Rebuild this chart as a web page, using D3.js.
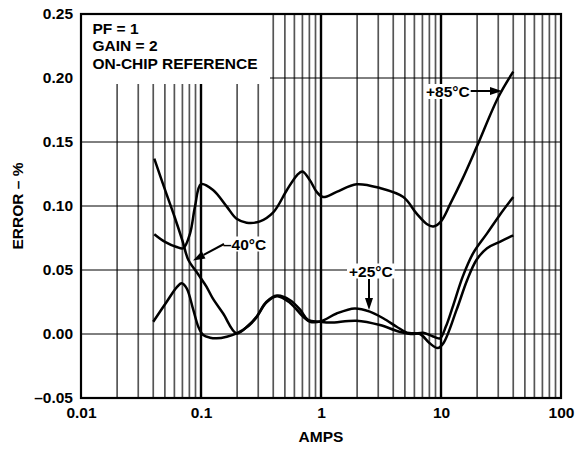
<!DOCTYPE html>
<html><head><meta charset="utf-8">
<script src="https://cdn.jsdelivr.net/npm/d3@7"></script>
<style>
html,body{margin:0;padding:0;background:#fff;}
svg{display:block;}
text{font-family:"Liberation Sans",Arial,Helvetica,sans-serif;font-weight:bold;fill:#000;}
</style></head>
<body><svg id="c" width="576" height="449"></svg>
<script>
// ---- data (amps, error %) ----
const xTicks = [0.01, 0.1, 1, 10, 100];
const xTickLabels = ["0.01", "0.1", "1", "10", "100"];
const yTicks = [-0.05, 0, 0.05, 0.10, 0.15, 0.20, 0.25];
const yTickLabels = ["–0.05", "0.00", "0.05", "0.10", "0.15", "0.20", "0.25"];
const boxLines = ["PF = 1", "GAIN = 2", "ON-CHIP REFERENCE"];

const p85Amps = [0.0408,0.0501,0.0627,0.0711,0.0811,0.0891,0.1,0.126,0.164,0.198,0.24,0.31,0.40,0.52,0.63,0.70,0.81,0.92,1.04,1.35,1.98,3.1,4.85,6.27,7.6,8.63,10.0,12.0,14.9,19.8,30.0,40.0];
const p85Err  = [0.078,0.072,0.068,0.067,0.0787,0.0995,0.117,0.1125,0.0995,0.090,0.087,0.088,0.095,0.1125,0.124,0.127,0.120,0.111,0.107,0.111,0.117,0.114,0.107,0.094,0.086,0.084,0.088,0.102,0.120,0.146,0.185,0.205];

const m40Amps = [0.0408,0.05,0.06,0.07,0.0783,0.09,0.1,0.111,0.125,0.153,0.198,0.25,0.29,0.35,0.43,0.55,0.67,0.78,0.98,1.19,1.98,3.1,4.5,5.9,7.1,8.6,9.8,11.0,12.5,15.2,18.5,24.2,30.9,40.0];
const m40Err  = [0.137,0.113,0.092,0.073,0.058,0.0496,0.0434,0.037,0.028,0.016,0.0005,0.007,0.0135,0.025,0.030,0.0266,0.019,0.011,0.0096,0.0089,0.0104,0.007,0.0018,0.0,0.001,-0.002,-0.0034,0.006,0.021,0.045,0.063,0.0786,0.093,0.107];

const p25Amps = [0.04,0.0518,0.0627,0.069,0.076,0.0863,0.095,0.1044,0.119,0.135,0.164,0.198,0.25,0.29,0.35,0.43,0.55,0.71,0.81,1.0,1.35,1.91,2.55,3.3,4.27,5.2,6.7,8.0,9.4,10.5,13.5,16.5,19.8,24.2,30.9,40.0];
const p25Err  = [0.0096,0.0252,0.0365,0.0396,0.0357,0.0188,0.0057,-0.0008,-0.0029,-0.0034,-0.0021,0.0005,0.0065,0.0130,0.0245,0.0295,0.0245,0.0135,0.0096,0.0100,0.016,0.020,0.0175,0.0123,0.0057,0.001,0.0,-0.007,-0.011,-0.007,0.019,0.042,0.058,0.067,0.072,0.077];

const curveLabels = ["+85°C", "–40°C", "+25°C"];

// ---- chart ----
const FS = 15.5;
const svg = d3.select("#c");
const x = d3.scaleLog().domain([0.01, 100]).range([81, 561]);
const y = d3.scaleLinear().domain([-0.05, 0.25]).range([398, 14]);

// minor vertical grid
const minor = [];
for (let d = -2; d <= 1; d++) for (let k = 2; k <= 9; k++) minor.push(k * Math.pow(10, d));
svg.append("g").selectAll("line").data(minor).join("line")
  .attr("x1", d => x(d)).attr("x2", d => x(d))
  .attr("y1", y(0.25)).attr("y2", y(-0.05))
  .attr("stroke", "#555").attr("stroke-width", 1.7);
// horizontal grid
svg.append("g").selectAll("line").data(yTicks.slice(1, -1)).join("line")
  .attr("x1", x(0.01)).attr("x2", x(100))
  .attr("y1", d => y(d)).attr("y2", d => y(d))
  .attr("stroke", "#000").attr("stroke-width", 1);
// decade lines
svg.append("g").selectAll("line").data(xTicks.slice(1, -1)).join("line")
  .attr("x1", d => x(d)).attr("x2", d => x(d))
  .attr("y1", y(0.25)).attr("y2", y(-0.05))
  .attr("stroke", "#000").attr("stroke-width", 2.4);

// text box
svg.append("rect").attr("x", 81).attr("y", 14).attr("width", 189).attr("height", 70).attr("fill", "#fff");
svg.append("g").selectAll("text").data(boxLines).join("text")
  .attr("x", 92.5).attr("y", (d, i) => 33.8 + i * 17.4)
  .attr("font-size", FS).text(d => d);

// curves
const line = d3.line().x(d => x(d[0])).y(d => y(d[1])).curve(d3.curveCatmullRom.alpha(0.5));
[[p85Amps, p85Err], [m40Amps, m40Err], [p25Amps, p25Err]].forEach(([a, e]) => {
  svg.append("path").datum(a.map((v, i) => [v, e[i]]))
    .attr("d", line).attr("fill", "none").attr("stroke", "#000")
    .attr("stroke-width", 2.5).attr("stroke-linejoin", "round");
});

// frame
svg.append("rect").attr("x", 81).attr("y", 14).attr("width", 480).attr("height", 384)
  .attr("fill", "none").attr("stroke", "#000").attr("stroke-width", 2.2);

// axes
const xa = svg.append("g").attr("transform", "translate(0,398)")
  .call(d3.axisBottom(x).tickValues(xTicks).tickSize(0).tickPadding(9).tickFormat((d, i) => xTickLabels[i]));
xa.select(".domain").remove();
xa.selectAll("text").attr("font-size", FS).attr("font-family", null);
const ya = svg.append("g").attr("transform", "translate(81,0)")
  .call(d3.axisLeft(y).tickValues(yTicks).tickSize(0).tickPadding(8).tickFormat((d, i) => yTickLabels[i]));
ya.select(".domain").remove();
ya.selectAll("text").attr("font-size", FS).attr("font-family", null);

svg.append("text").attr("x", 321).attr("y", 442).attr("text-anchor", "middle").attr("font-size", FS).text("AMPS");
svg.append("text").attr("transform", "translate(22.5,206) rotate(-90)").attr("text-anchor", "middle")
  .attr("font-size", FS).text("ERROR – %");

// curve labels with white backgrounds
function label(txt, lx, ly) {
  const t = svg.append("text").attr("x", lx).attr("y", ly).attr("font-size", FS).text(txt);
  const b = t.node().getBBox();
  svg.insert("rect", () => t.node()).attr("x", b.x - 2).attr("y", b.y + 1).attr("width", b.width + 4).attr("height", b.height - 2).attr("fill", "#fff");
  return b;
}
function arrow(x1, y1, x2, y2) {
  const ang = Math.atan2(y2 - y1, x2 - x1), L = 12, W = 4;
  const bx = x2 - L * Math.cos(ang), by = y2 - L * Math.sin(ang);
  svg.append("line").attr("x1", x1).attr("y1", y1).attr("x2", bx).attr("y2", by).attr("stroke", "#000").attr("stroke-width", 2);
  const px = -Math.sin(ang) * W, py = Math.cos(ang) * W;
  svg.append("path").attr("d", `M${x2},${y2}L${bx + px},${by + py}L${bx - px},${by - py}Z`).attr("fill", "#000");
}
const b85 = label(curveLabels[0], 426, 97);
arrow(b85.x + b85.width + 1, 91, 502, 91);
label(curveLabels[1], 223, 249.5);
arrow(224, 244, 193, 260.5);
label(curveLabels[2], 349, 276.5);
arrow(369, 279, 369, 310);
</script></body></html>
